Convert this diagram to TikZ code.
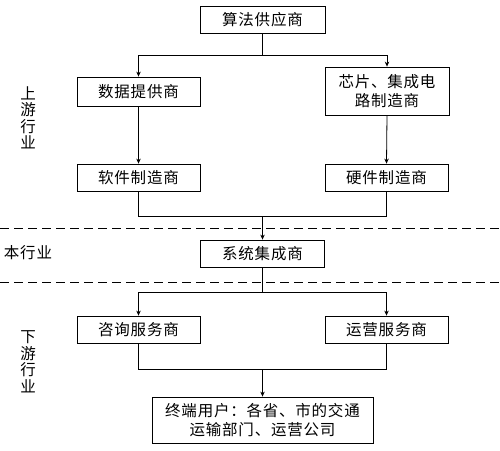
\documentclass[tikz,border=0pt]{standalone}
\usepackage{fontspec}
\newfontfamily\cjk[LetterSpace=5]{Noto Sans CJK SC}
\usetikzlibrary{arrows.meta}
\begin{document}
\begin{tikzpicture}[x=1pt,y=-1pt,
  box/.style={draw,line width=0.8pt,rectangle,inner sep=0pt,align=center,
    font=\cjk\fontsize{15.5}{19}\selectfont},
  lab/.style={inner sep=0pt,align=center,font=\cjk\fontsize{15.5}{16.5}\selectfont},
  conn/.style={line width=0.8pt},
  arr/.style={line width=0.8pt,-{Stealth[length=5pt,width=4.5pt]}},
  sep/.style={line width=0.8pt,dash pattern=on 9pt off 5pt}]
\useasboundingbox (0,0) rectangle (500,450);
% nodes
\node[box,minimum width=125pt,minimum height=27pt] (alg) at (262.5,19.5) {算法供应商};
\node[box,minimum width=123pt,minimum height=29pt] (data) at (138.5,91.5) {数据提供商};
\node[box,minimum width=124pt,minimum height=48pt] (chip) at (387,91) {芯片、集成电\\路制造商};
\node[box,minimum width=123pt,minimum height=27pt] (soft) at (138.5,177.5) {软件制造商};
\node[box,minimum width=123pt,minimum height=27pt] (hard) at (386.5,177.5) {硬件制造商};
\node[box,minimum width=124pt,minimum height=27pt] (sys) at (262.5,253.5) {系统集成商};
\node[box,minimum width=123pt,minimum height=27pt] (cons) at (138.5,329.5) {咨询服务商};
\node[box,minimum width=123pt,minimum height=27pt] (ops) at (386.5,329.5) {运营服务商};
\node[box,minimum width=221pt,minimum height=46pt] (end) at (262.5,420) {终端用户：各省、市的交通\\运输部门、运营公司};
% labels
\node[lab] (up) at (28,118) {上\\游\\行\\业};
\node[lab] (mid) at (28,253) {本行业};
\node[lab] (down) at (28,362) {下\\游\\行\\业};
% separators
\coordinate (d1l) at (0,228); \coordinate (d1r) at (500,228);
\coordinate (d2l) at (0,282); \coordinate (d2r) at (500,282);
\draw[sep] (d1l) -- (d1r);
\draw[sep] (d2l) -- (d2r);
% connectors
\coordinate (j1) at (262.5,55);
\coordinate (j2) at (262.5,216);
\coordinate (j3) at (262.5,292);
\coordinate (j4) at (262.5,369);
\draw[conn] (alg.south) -- (j1);
\draw[arr] (j1) -| (data.north);
\draw[arr] (j1) -| (chip.north);
\draw[arr] (data.south) -- (soft.north);
\draw[arr] (chip.south) -- (hard.north);
\draw[conn] (soft.south) |- (j2);
\draw[conn] (hard.south) |- (j2);
\draw[arr] (j2) -- (sys.north);
\draw[conn] (sys.south) -- (j3);
\draw[arr] (j3) -| (cons.north);
\draw[arr] (j3) -| (ops.north);
\draw[conn] (cons.south) |- (j4);
\draw[conn] (ops.south) |- (j4);
\draw[arr] (j4) -- (end.north);
\end{tikzpicture}
\end{document}
